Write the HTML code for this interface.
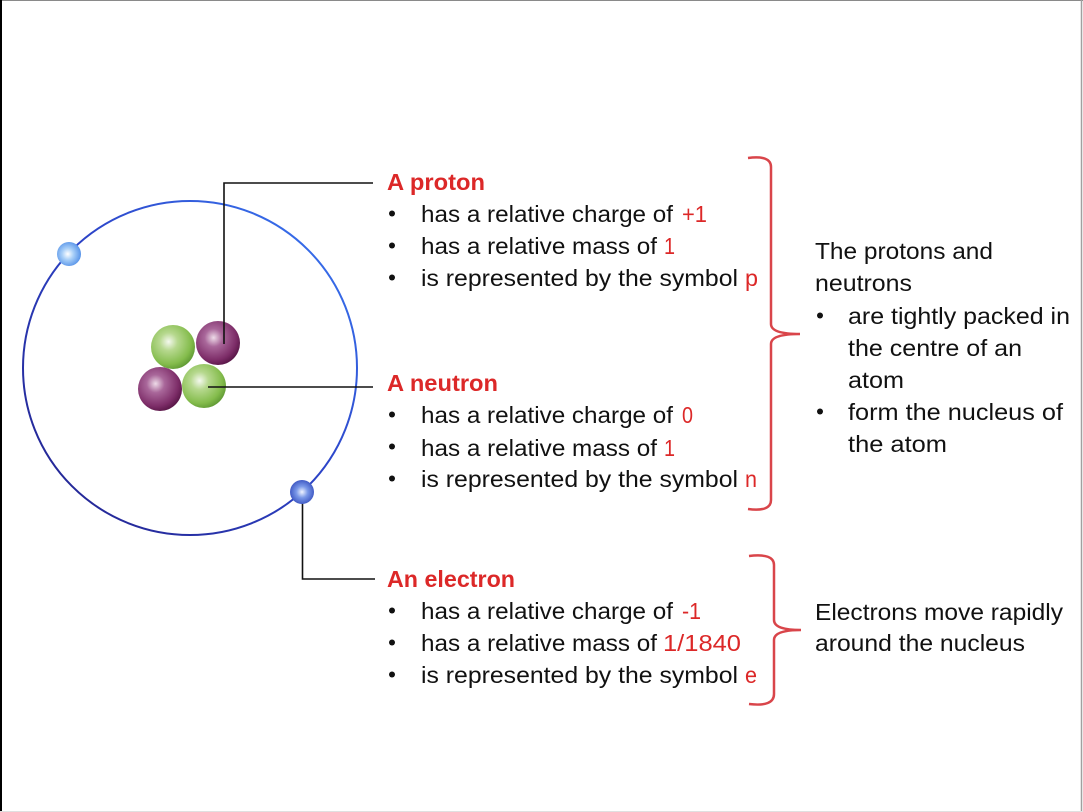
<!DOCTYPE html>
<html>
<head>
<meta charset="utf-8">
<style>
  html,body{margin:0;padding:0;background:#fff;}
  body{width:1083px;height:812px;overflow:hidden;}
  svg{display:block;}
  .t{font-family:"Liberation Sans",sans-serif;font-size:23px;fill:#111;}
  .r{fill:#dc2828;}
  .b{font-weight:bold;}
</style>
</head>
<body>
<svg width="1083" height="812" viewBox="0 0 1083 812" xmlns="http://www.w3.org/2000/svg">
  <defs>
    <linearGradient id="orb" x1="1" y1="0" x2="0" y2="1">
      <stop offset="0" stop-color="#3b7cf6"/>
      <stop offset="0.45" stop-color="#2c44c8"/>
      <stop offset="1" stop-color="#221f88"/>
    </linearGradient>
    <radialGradient id="green" cx="0.4" cy="0.38" r="0.68">
      <stop offset="0" stop-color="#f4f8ee"/>
      <stop offset="0.3" stop-color="#b6d88e"/>
      <stop offset="0.75" stop-color="#84bc4c"/>
      <stop offset="1" stop-color="#5a9430"/>
    </radialGradient>
    <radialGradient id="purple" cx="0.4" cy="0.38" r="0.68">
      <stop offset="0" stop-color="#eedbe8"/>
      <stop offset="0.3" stop-color="#a9679a"/>
      <stop offset="0.75" stop-color="#7d2d68"/>
      <stop offset="1" stop-color="#521241"/>
    </radialGradient>
    <radialGradient id="e1" cx="0.45" cy="0.5" r="0.6">
      <stop offset="0" stop-color="#ffffff"/>
      <stop offset="0.4" stop-color="#a8cff8"/>
      <stop offset="1" stop-color="#4a8ae6"/>
    </radialGradient>
    <radialGradient id="e2" cx="0.5" cy="0.5" r="0.6">
      <stop offset="0" stop-color="#f0f4ff"/>
      <stop offset="0.4" stop-color="#7a98e8"/>
      <stop offset="1" stop-color="#2c44b8"/>
    </radialGradient>
  </defs>

  <!-- frame -->
  <rect x="0" y="0" width="1083" height="812" fill="#fff"/>
  <line x1="0" y1="0.5" x2="1083" y2="0.5" stroke="#8a8a8a" stroke-width="1"/>
  <line x1="1" y1="0" x2="1" y2="812" stroke="#000" stroke-width="2"/>
  <line x1="1081.5" y1="0" x2="1081.5" y2="812" stroke="#a0a0a0" stroke-width="1.5"/>
  <line x1="0" y1="811.5" x2="1083" y2="811.5" stroke="#e0e0e0" stroke-width="1"/>

  <!-- orbit -->
  <circle cx="190" cy="368" r="167" fill="none" stroke="url(#orb)" stroke-width="2"/>

  <!-- nucleus -->
  <circle cx="173" cy="347" r="22" fill="url(#green)"/>
  <circle cx="218" cy="343" r="22" fill="url(#purple)"/>
  <circle cx="160" cy="389" r="22" fill="url(#purple)"/>
  <circle cx="204" cy="386" r="22" fill="url(#green)"/>

  <!-- connector lines -->
  <path d="M224,344 V183 H373" fill="none" stroke="#111" stroke-width="1.6"/>
  <path d="M208,387 H373" fill="none" stroke="#111" stroke-width="1.6"/>
  <path d="M302.5,494 V579 H375" fill="none" stroke="#111" stroke-width="1.6"/>

  <!-- electrons -->
  <circle cx="69" cy="254" r="12" fill="url(#e1)"/>
  <circle cx="302" cy="492" r="12" fill="url(#e2)"/>

  <!-- braces -->
  <path d="M748,158 Q771,155 771,167 L771,324 Q771,334 800,334 Q771,334 771,344 L771,500 Q771,512 748,509" fill="none" stroke="#d9454a" stroke-width="2.5"/>
  <path d="M749,556 Q774,553 774,565 L774,620 Q774,630 801,630 Q774,630 774,640 L774,694 Q774,707 749,704" fill="none" stroke="#d9454a" stroke-width="2.5"/>

  <!-- Proton -->
  <text class="t r b" x="387" y="190" textLength="98" lengthAdjust="spacingAndGlyphs">A proton</text>
  <circle cx="392" cy="213.5" r="3" fill="#111"/>
  <text class="t" x="421" y="222" textLength="252" lengthAdjust="spacingAndGlyphs">has a relative charge of</text>
  <text class="t r" x="682" y="222" textLength="25" lengthAdjust="spacingAndGlyphs">+1</text>
  <circle cx="392" cy="245.5" r="3" fill="#111"/>
  <text class="t" x="421" y="254" textLength="236" lengthAdjust="spacingAndGlyphs">has a relative mass of</text>
  <text class="t r" x="664" y="254" textLength="11" lengthAdjust="spacingAndGlyphs">1</text>
  <circle cx="392" cy="277.5" r="3" fill="#111"/>
  <text class="t" x="421" y="286" textLength="317" lengthAdjust="spacingAndGlyphs">is represented by the symbol</text>
  <text class="t r" x="745" y="286" textLength="13" lengthAdjust="spacingAndGlyphs">p</text>

  <!-- Neutron -->
  <text class="t r b" x="387" y="391" textLength="111" lengthAdjust="spacingAndGlyphs">A neutron</text>
  <circle cx="392" cy="414.5" r="3" fill="#111"/>
  <text class="t" x="421" y="423" textLength="252" lengthAdjust="spacingAndGlyphs">has a relative charge of</text>
  <text class="t r" x="682" y="423" textLength="11" lengthAdjust="spacingAndGlyphs">0</text>
  <circle cx="392" cy="446.5" r="3" fill="#111"/>
  <text class="t" x="421" y="456" textLength="236" lengthAdjust="spacingAndGlyphs">has a relative mass of</text>
  <text class="t r" x="664" y="456" textLength="11" lengthAdjust="spacingAndGlyphs">1</text>
  <circle cx="392" cy="478.5" r="3" fill="#111"/>
  <text class="t" x="421" y="487" textLength="317" lengthAdjust="spacingAndGlyphs">is represented by the symbol</text>
  <text class="t r" x="745" y="487" textLength="12" lengthAdjust="spacingAndGlyphs">n</text>

  <!-- Electron -->
  <text class="t r b" x="387" y="587" textLength="128" lengthAdjust="spacingAndGlyphs">An electron</text>
  <circle cx="392" cy="610.5" r="3" fill="#111"/>
  <text class="t" x="421" y="619" textLength="252" lengthAdjust="spacingAndGlyphs">has a relative charge of</text>
  <text class="t r" x="682" y="619" textLength="19" lengthAdjust="spacingAndGlyphs">-1</text>
  <circle cx="392" cy="642.5" r="3" fill="#111"/>
  <text class="t" x="421" y="651" textLength="236" lengthAdjust="spacingAndGlyphs">has a relative mass of</text>
  <text class="t r" x="663" y="651" textLength="78" lengthAdjust="spacingAndGlyphs">1/1840</text>
  <circle cx="392" cy="674.5" r="3" fill="#111"/>
  <text class="t" x="421" y="683" textLength="317" lengthAdjust="spacingAndGlyphs">is represented by the symbol</text>
  <text class="t r" x="745" y="683" textLength="12" lengthAdjust="spacingAndGlyphs">e</text>

  <!-- Right column -->
  <text class="t" x="815" y="259" textLength="178" lengthAdjust="spacingAndGlyphs">The protons and</text>
  <text class="t" x="815" y="291" textLength="97" lengthAdjust="spacingAndGlyphs">neutrons</text>
  <circle cx="820" cy="315.5" r="3" fill="#111"/>
  <text class="t" x="848" y="324" textLength="222" lengthAdjust="spacingAndGlyphs">are tightly packed in</text>
  <text class="t" x="848" y="356" textLength="174" lengthAdjust="spacingAndGlyphs">the centre of an</text>
  <text class="t" x="848" y="388" textLength="56" lengthAdjust="spacingAndGlyphs">atom</text>
  <circle cx="820" cy="411.5" r="3" fill="#111"/>
  <text class="t" x="848" y="420" textLength="215" lengthAdjust="spacingAndGlyphs">form the nucleus of</text>
  <text class="t" x="848" y="452" textLength="99" lengthAdjust="spacingAndGlyphs">the atom</text>

  <text class="t" x="815" y="620" textLength="248" lengthAdjust="spacingAndGlyphs">Electrons move rapidly</text>
  <text class="t" x="815" y="651" textLength="210" lengthAdjust="spacingAndGlyphs">around the nucleus</text>
</svg>
</body>
</html>
